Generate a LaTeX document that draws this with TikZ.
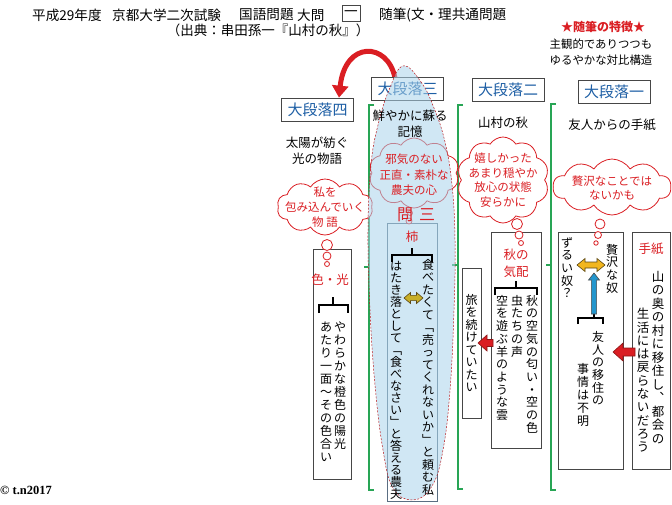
\documentclass[tikz,border=0pt]{standalone}
\usepackage{fontspec}
\setmainfont{Noto Sans CJK JP}
\newfontfamily\serifcr{Liberation Serif}
\usetikzlibrary{shapes.symbols,arrows.meta}
\definecolor{cred}{RGB}{218,30,35}
\definecolor{dred}{RGB}{140,20,20}
\definecolor{hblue}{RGB}{30,95,165}
\definecolor{gline}{RGB}{40,165,85}
\definecolor{lblue}{RGB}{170,212,235}
\definecolor{edge}{RGB}{70,70,70}
\definecolor{slate}{RGB}{90,110,130}
\definecolor{ablue}{RGB}{35,150,205}
\definecolor{agold}{RGB}{242,182,30}
\definecolor{aolive}{RGB}{200,175,40}
\definecolor{adark}{RGB}{90,70,20}

\ExplSyntaxOn
\NewDocumentCommand \tate { O{12.5pt} m }
 {
  \vbox:n
   {
    \baselineskip=#1\relax
    \lineskiplimit=-\maxdimen
    \lineskip=0pt
    \tl_map_inline:nn {#2} { \hbox_to_wd:nn {1em} { \hss ##1 \hss } }
   }
 }
\ExplSyntaxOff

\newcommand\blockL[7]{% tail x, tip x, y, shaft half, head half, head len, fill
  \filldraw[fill=#7, draw=dred, line width=0.6pt] ({#1},{#3-#4}) -- ({#2+#6},{#3-#4}) -- ({#2+#6},{#3-#5}) -- ({#2},{#3}) -- ({#2+#6},{#3+#5}) -- ({#2+#6},{#3+#4}) -- ({#1},{#3+#4}) -- cycle;}
\newcommand\blockU[7]{% x, tail y, tip y, shaft half, head half, head len, fill
  \filldraw[fill=#7, draw=black!70, line width=0.6pt] ({#1-#4},{#2}) -- ({#1-#4},{#3+#6}) -- ({#1-#5},{#3+#6}) -- ({#1},{#3}) -- ({#1+#5},{#3+#6}) -- ({#1+#4},{#3+#6}) -- ({#1+#4},{#2}) -- cycle;}
\newcommand\blockD[7]{% x1, x2, y, shaft half, head half, head len, fill
  \filldraw[fill=#7, draw=adark, line width=0.6pt] ({#1},{#3}) -- ({#1+#6},{#3-#5}) -- ({#1+#6},{#3-#4}) -- ({#2-#6},{#3-#4}) -- ({#2-#6},{#3-#5}) -- ({#2},{#3}) -- ({#2-#6},{#3+#5}) -- ({#2-#6},{#3+#4}) -- ({#1+#6},{#3+#4}) -- ({#1+#6},{#3+#5}) -- cycle;}

\begin{document}
\begin{tikzpicture}[x=1pt,y=-1pt,
  ttl/.style={font=\fontsize{13.6}{15}\selectfont, inner sep=0},
  txt/.style={font=\fontsize{12.5}{16}\selectfont, inner sep=0, align=center},
  hdr/.style={draw=edge, fill=white, text=hblue, font=\fontsize{15}{16}\selectfont, minimum width=72pt, minimum height=23pt, inner sep=0, line width=0.7pt},
  fr/.style={draw=edge, fill=white, line width=0.7pt, inner sep=0},
  cl/.style={cloud, cloud puffs=10, cloud puff arc=115, cloud ignores aspect, draw=cred, fill=white, line width=0.8pt, inner sep=0},
  ctext/.style={text=cred, font=\fontsize{11.5}{14.5}\selectfont, align=center, inner sep=0},
  bub/.style={draw=cred, fill=white, line width=0.8pt},
  rtxt/.style={text=cred, font=\fontsize{12.5}{17}\selectfont, align=center, inner sep=0},
  vt/.style={font=\fontsize{12}{13}\selectfont, inner sep=0, anchor=north},
  gbr/.style={draw=gline, line width=1.4pt},
  kbr/.style={draw=black, line width=1.3pt},
  egg/.style={fill=lblue, fill opacity=0.55, draw=cred!85!black, dashed, dash pattern=on 2pt off 1.5pt, line width=0.5pt}
]
\useasboundingbox (0,0) rectangle (672,504);

% ---------- title ----------
\node[ttl, anchor=west] (t1) at (32,15) {平成29年度};
\node[ttl, anchor=west] (t2) at (112,15) {京都大学二次試験};
\node[ttl, anchor=west] (t3) at (239,15) {国語問題};
\node[ttl, anchor=west] (t4) at (297,15) {大問};
\node[ttl, draw=edge, line width=0.7pt, minimum width=18pt, minimum height=16pt] (t5) at (351,13.5) {一};
\node[ttl, anchor=west] (t6) at (379,15) {随筆(文・理共通問題};
\node[ttl, font=\fontsize{13.5}{15}\selectfont] (t7) at (268,30) {（出典：串田孫一『山村の秋』）};

\node[ttl, text=cred, font=\fontsize{12}{14}\selectfont\bfseries] (f1) at (603,27) {★随筆の特徴★};
\node[ttl, font=\fontsize{11.4}{14}\selectfont] (f2) at (601,44) {主観的でありつつも};
\node[ttl, font=\fontsize{11.4}{14}\selectfont] (f3) at (601,60) {ゆるやかな対比構造};

% ---------- green brackets ----------
\draw[gbr] (374,105) -- (369,105) -- (369,490) -- (374,490);
\draw[gbr] (369,267) -- (364,267);
\draw[gbr] (463,105) -- (458,105) -- (458,489) -- (463,489);
\draw[gbr] (458,265) -- (452,265);
\draw[gbr] (556,104) -- (551,104) -- (551,490) -- (556,490);
\draw[gbr] (551,265) -- (546,265);

% ---------- curved arrow ----------
\node[hdr] (h4) at (317.5,109.5) {大段落四};
\draw[line width=5pt, cred, -{Triangle[length=12pt,width=16pt]}] (395,78) .. controls (388,42) and (345,40) .. (h4.north -| 339,0);

% ---------- headers ----------
\node[hdr] (h3) at (407.5,89) {大段落三};
\node[hdr] (h2) at (508,90) {大段落二};
\node[hdr] (h1) at (614,91.5) {大段落一};

% ---------- boxes ----------
\node[fr, minimum width=38pt, minimum height=230pt] (b4) at (332,364) {};
\node[draw=slate, line width=0.8pt, inner sep=0, minimum width=50pt, minimum height=278pt] (b3) at (412,362) {};
\node[fr, minimum width=50pt, minimum height=216pt] (b2a) at (516,340) {};
\node[fr, minimum width=19pt, minimum height=150pt] (b2b) at (471.5,343) {};
\node[fr, minimum width=65pt, minimum height=237pt] (b1a) at (590.5,350.5) {};
\node[fr, minimum width=38pt, minimum height=237pt] (b1b) at (651,350.5) {};

% ---------- clouds ----------
\node[cl, minimum width=118pt, minimum height=56pt] (c1) at (612,187) {};
\draw[bub] (600,224) circle (5);
\draw[bub] (598,235) circle (3.5);
\draw[bub] (596,243) circle (2.2);

\node[cl, minimum width=92pt, minimum height=86pt] (c2) at (503,180) {};
\draw[bub] (517,224) circle (5.5);
\draw[bub] (519,235) circle (4);
\draw[bub] (521,243) circle (2.5);

\node[cl, minimum width=90pt, minimum height=70pt] (c3) at (414,173) {};
\draw[bub] (410,213) circle (2.5);
\draw[bub] (409,221) circle (3);

\node[cl, minimum width=96pt, minimum height=56pt] (c4) at (325,207) {};
\draw[bub] (327,245) circle (5.5);
\draw[bub] (327,256) circle (4);
\draw[bub] (327,264) circle (2.5);

% ---------- translucent ellipse ----------
\draw[egg] plot[smooth cycle, tension=0.7] coordinates {(403,66) (421,82) (434,108) (445,142) (452,185) (455,240) (454,310) (450,390) (443,450) (432,486) (413,500) (393,488) (383,450) (375,385) (370,310) (368,230) (371,165) (378,125) (389,90)};

% ---------- plain texts ----------
\node[txt] (s4) at (317,151) {太陽が紡ぐ\\光の物語};
\node[txt] (s3) at (410,123.5) {鮮やかに蘇る\\記憶};
\node[txt] (s2) at (503,123) {山村の秋};
\node[txt] (s1) at (612,125) {友人からの手紙};

\node[ctext] (ct1) at (612,188) {贅沢なことでは\\ないかも};
\node[ctext] (ct2) at (503,180) {嬉しかった\\あまり穏やか\\放心の状態\\安らかに};
\node[ctext, font=\fontsize{11.5}{15.5}\selectfont] (ct3) at (414,175) {邪気のない\\正直・素朴な\\農夫の心};
\node[ctext, font=\fontsize{11.5}{15}\selectfont] (ct4) at (325,207) {私を\\包み込んでいく\\物 語};

% ---------- red labels ----------
\node[rtxt, font=\fontsize{16}{18}\selectfont] (q1) at (405,215) {問};
\node[rtxt, font=\fontsize{16}{18}\selectfont] (q2) at (427,215) {三};
\node[rtxt] (kaki) at (412,237) {柿};
\node[rtxt] (iro) at (330,280) {色・光};
\node[rtxt] (aki) at (516,263) {秋の\\気配};
\node[rtxt] (tegami) at (651,249) {手紙};

% ---------- black brackets ----------
\draw[kbr] (319,313) -- (319,305) -- (348,305) -- (348,313);
\draw[kbr] (333,305) -- (333,297);
\draw[kbr] (392,262) -- (392,255) -- (432,255) -- (432,262);
\draw[kbr] (412,255) -- (412,248);
\draw[kbr] (495,295) -- (495,288) -- (537,288) -- (537,295);
\draw[kbr] (516,288) -- (516,281);
\draw[kbr] (578,324) -- (578,318) -- (603,318) -- (603,324);
\draw[kbr] (594,318) -- (594,313);

% ---------- vertical texts ----------
\node[vt] (v41) at (340,322) {\tate[13pt]{やわらかな橙色の陽光}};
\node[vt] (v42) at (326,322) {\tate[13pt]{あたり一面～その色合い}};
\node[vt] (v31) at (428,259) {\tate[12.5pt]{食べたくて﹁売ってくれないか﹂と頼む私}};
\node[vt] (v32) at (396,261) {\tate[12pt]{はたき落として﹁食べなさい﹂と答える農夫}};
\node[vt] (v21) at (532,295) {\tate[12.7pt]{秋の空気の匂い・空の色}};
\node[vt] (v22) at (517,295) {\tate[12.7pt]{虫たちの声}};
\node[vt] (v23) at (502,295) {\tate[12.7pt]{空を遊ぶ羊のような雲}};
\node[vt] (v24) at (471.5,294) {\tate[12.5pt]{旅を続けていたい}};
\node[vt] (v11) at (612,244) {\tate[12.7pt]{贅沢な奴}};
\node[vt] (v12) at (567,237) {\tate[12.7pt]{ずるい奴？}};
\node[vt] (v13) at (598,331) {\tate[12.7pt]{友人の移住の}};
\node[vt] (v14) at (583,363) {\tate[13pt]{事情は不明}};
\node[vt, font=\fontsize{12.5}{13}\selectfont] (v15) at (658,271) {\tate[13.5pt]{山の奥の村に移住し︑都会の}};
\node[vt, font=\fontsize{12.5}{13}\selectfont] (v16) at (643,308) {\tate[13.3pt]{生活には戻らないだろう}};

% ---------- block arrows ----------
\blockL{635}{613}{352}{4}{9}{10}{cred}
\blockL{493}{478}{343}{3.5}{8}{9}{cred}
\blockU{594}{314}{273}{2.6}{5.5}{7}{ablue}
\blockD{577}{605}{265}{3}{6.5}{8}{agold}
\blockD{404}{423}{298}{2.6}{5.5}{6.5}{aolive}

% ---------- copyright ----------
\node[anchor=west, inner sep=0, font=\serifcr\bfseries\fontsize{12.5}{13}\selectfont] (cp) at (0,490) {© t.n2017};
\end{tikzpicture}
\end{document}
